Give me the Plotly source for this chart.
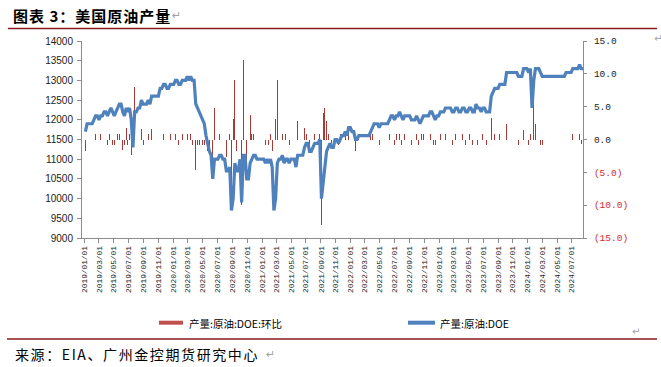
import plotly.graph_objects as go
import pandas as pd

# ---------------- data ----------------
week_start = "2019-01-04"   # weekly series, Fridays

prod_2019 = [11700, 11900, 11900, 11900, 11900, 12000, 12100, 12100, 12000, 12100,
             12100, 12200, 12200, 12100, 12200, 12300, 12200, 12100, 12200, 12300,
             12400, 12400, 12200, 12100, 12300, 12200, 12300, 12000, 11300, 12200,
             12200, 12300, 12300, 12500, 12400, 12400, 12400, 12500, 12400, 12600,
             12600, 12600, 12600, 12600, 12800, 12800, 12900, 12900, 12800, 12800,
             12900, 12900]
prod_2020 = [12900, 13000, 13000, 12900, 12900, 13000, 13000, 13000, 13100, 13000,
             13100, 13000, 13000, 12400, 12300, 12200, 12100, 12000, 11900, 11600,
             11400, 11200, 11100, 10500, 11000, 11000, 11000, 11100, 11100, 11000,
             11000, 10700, 10700, 10800, 9700, 10000, 10900, 10700, 10700, 11000,
             9900, 11100, 11100, 10500, 10500, 10900, 11000, 11100, 11100, 11000,
             11000, 11000]
prod_2021 = [11000, 11000, 10900, 11000, 10900, 11000, 10800, 9700, 10000, 10900,
             11000, 11000, 11100, 10900, 11000, 11000, 10900, 11000, 11000, 11000,
             10800, 11100, 11100, 11100, 11100, 11300, 11400, 11400, 11200, 11200,
             11300, 11400, 11400, 11400, 11500, 10000, 10400, 10900, 11200, 11300,
             11400, 11300, 11300, 11500, 11500, 11400, 11500, 11600, 11600, 11700,
             11600, 11800]
prod_2022 = [11800, 11700, 11700, 11500, 11500, 11600, 11600, 11600, 11600, 11600,
             11600, 11600, 11700, 11800, 11900, 11900, 11900, 11800, 11900, 11900,
             11900, 11900, 11900, 12000, 12100, 12100, 12000, 12100, 12100, 12200,
             12100, 12000, 12100, 12100, 12100, 12100, 12000, 12000, 12000, 12100,
             12000, 11900, 12000, 12100, 12100, 12100, 12100, 12200, 12200, 12100,
             12000, 12100]
prod_2023 = [12100, 12200, 12200, 12200, 12300, 12300, 12300, 12300, 12200, 12200,
             12300, 12300, 12200, 12200, 12300, 12300, 12200, 12200, 12300, 12300,
             12200, 12200, 12400, 12300, 12300, 12200, 12300, 12300, 12200, 12200,
             12200, 12600, 12700, 12800, 12800, 12800, 12900, 12900, 12900, 12900,
             13200, 13200, 13200, 13200, 13200, 13200, 13200, 13100, 13100, 13100,
             13300, 13300]
prod_2024 = [13300, 13200, 13300, 12300, 13000, 13300, 13300, 13300, 13200, 13100,
             13100, 13100, 13100, 13100, 13100, 13100, 13100, 13100, 13100, 13100,
             13100, 13100, 13100, 13200, 13200, 13200, 13200, 13300, 13300, 13300,
             13300, 13400, 13300, 13300]

wow_2019 = [-1.7, 1.7, 0, 0, 0, 0.8, 0.8, 0, -0.8, 0.8,
            0, 0.8, 0, -0.8, 0.8, 0.8, -0.8, -0.8, 0.8, 0.8,
            0.8, 0, -1.6, -0.8, 1.7, -0.8, 0.8, -2.4, -5.8, 8.0,
            0, 0.8, 0, 1.6, -0.8, 0, 0, 0.8, -0.8, 1.6,
            0, 0, 0, 0, 1.6, 0, 0.8, 0, -0.8, 0,
            0.8, 0]
wow_2020 = [0, 0.8, 0, -0.8, 0, 0.8, 0, 0, 0.8, -0.8,
            0.8, -0.8, 0, -4.6, -0.8, -0.8, -0.8, -0.8, -0.8, -2.5,
            -1.7, -1.8, -0.9, -5.4, 4.8, 0, 0, 0.9, 0, -0.9,
            0, -2.7, 0, 0.9, -10.2, 3.1, 9.0, -1.8, 0, 2.8,
            -10.0, 12.1, 0, -5.4, 0, 3.8, 0.9, 0.9, 0, -0.9,
            0, 0]
wow_2021 = [0, 0, -0.9, 0.9, -0.9, 0.9, -1.8, -10.2, 3.1, 9.0,
            0.9, 0, 0.9, -1.8, 0.9, 0, -0.9, 0.9, 0, 0,
            -1.8, 2.8, 0, 0, 0, 1.8, 0.9, 0, -1.8, 0,
            0.9, 0.9, 0, 0, 0.9, -13.0, 4.0, 4.8, 2.8, 0.9,
            0.9, -0.9, 0, 1.8, 0, -0.9, 0.9, 0.9, 0, 0.9,
            -0.9, 1.7]
wow_2022 = [0, -0.8, 0, -1.7, 0, 0.9, 0, 0, 0, 0,
            0, 0, 0.9, 0.9, 0.8, 0, 0, -0.8, 0.8, 0,
            0, 0, 0, 0.8, 0.8, 0, -0.8, 0.8, 0, 0.8,
            -0.8, -0.8, 0.8, 0, 0, 0, -0.8, 0, 0, 0.8,
            -0.8, -0.8, 0.8, 0.8, 0, 0, 0, 0.8, 0, -0.8,
            -0.8, 0.8]
wow_2023 = [0, 0.8, 0, 0, 0.8, 0, 0, 0, -0.8, 0,
            0.8, 0, -0.8, 0, 0.8, 0, -0.8, 0, 0.8, 0,
            -0.8, 0, 1.6, -0.8, 0, -0.8, 0.8, 0, -0.8, 0,
            0, 3.3, 0.8, 0.8, 0, 0, 0.8, 0, 0, 0,
            2.3, 0, 0, 0, 0, 0, 0, -0.8, 0, 0,
            1.5, 0]
wow_2024 = [0, -0.8, 0.8, -7.5, 5.7, 2.3, 0, 0, -0.8, -0.8,
            0, 0, 0, 0, 0, 0, 0, 0, 0, 0,
            0, 0, 0, 0.8, 0, 0, 0, 0.8, 0, 0,
            0, 0.8, -0.7, 0]

production = prod_2019 + prod_2020 + prod_2021 + prod_2022 + prod_2023 + prod_2024
wow_change = wow_2019 + wow_2020 + wow_2021 + wow_2022 + wow_2023 + wow_2024
dates = pd.date_range(week_start, periods=len(production), freq="7D")

x_tick_dates = pd.date_range("2019-01-01", "2024-07-01", freq="2MS")
x_tick_labels = [d.strftime("%Y/%m/%d") for d in x_tick_dates]
left_ticks = list(range(9000, 14001, 500))
left_labels = [str(v) for v in left_ticks]
right_ticks = [-15, -10, -5, 0, 5, 10, 15]
right_labels = ["(15.0)", "(10.0)", "(5.0)", "0.0", "5.0", "10.0", "15.0"]

name_bar = "产量:原油:DOE:环比"
name_line = "产量:原油:DOE"
title_text = "图表 3：美国原油产量"
source_text = "来源：EIA、广州金控期货研究中心"

# ---------------- styling ----------------
W, H = 661, 367
ML, MR, MT, MB = 82, 78, 41, 129
PW, PH = W - ML - MR, H - MT - MB
BAR_C = "#A83A36"
LINE_C = "#4F81BD"
AXIS_C = "#8C8C8C"
RULE_C = "#8B1A1A"
NEG_C = "#D42A2A"
CJK = "Noto Sans CJK SC"


def px(x):
    return (x - ML) / PW


def py(y):
    return (H - MB - y) / PH


fig = go.Figure()
fig.add_trace(go.Bar(x=dates, y=wow_change, name=name_bar, yaxis="y",
                     marker=dict(color=BAR_C, line=dict(width=0)),
                     width=3.0 * 86400000, showlegend=False))
fig.add_trace(go.Scatter(x=dates, y=production, name=name_line, yaxis="y2",
                         mode="lines", line=dict(color=LINE_C, width=3.2),
                         showlegend=False))

right_text = [f'<span style="color:{NEG_C}">{t}</span>' if v < 0 else t
              for v, t in zip(right_ticks, right_labels)]

fig.update_layout(
    width=W, height=H,
    margin=dict(l=ML, r=MR, t=MT, b=MB),
    paper_bgcolor="white", plot_bgcolor="white",
    showlegend=False,
    bargap=0,
    xaxis=dict(type="date", range=["2018-12-21", "2024-08-16"],
               tickmode="array", tickvals=list(x_tick_dates), ticktext=x_tick_labels,
               tickangle=-90, ticks="outside", ticklen=4, tickcolor=AXIS_C,
               showline=True, linecolor=AXIS_C, linewidth=1, showgrid=False,
               zeroline=False, automargin=False,
               tickfont=dict(family="Liberation Mono", size=7.8, color="#222"),
               anchor="y"),
    yaxis=dict(side="right", range=[-15, 15], tickmode="array",
               tickvals=right_ticks, ticktext=right_text,
               ticks="outside", ticklen=3, tickcolor=AXIS_C, ticklabelstandoff=5,
               showline=True, linecolor=AXIS_C, linewidth=1,
               showgrid=False, zeroline=False, automargin=False,
               tickfont=dict(family="Liberation Mono", size=9.5, color="#222")),
    yaxis2=dict(side="left", overlaying="y", range=[9000, 14000],
                tickmode="array", tickvals=left_ticks, ticktext=left_labels,
                ticks="outside", ticklen=4, tickcolor=AXIS_C, ticklabelstandoff=2,
                showline=True, linecolor=AXIS_C, linewidth=1,
                showgrid=False, zeroline=False, automargin=False,
                tickfont=dict(family="Liberation Sans", size=10, color="#222")),
)

shapes = [
    dict(type="line", xref="paper", yref="paper", x0=px(8), x1=px(657), y0=py(28.5), y1=py(28.5),
         line=dict(color=RULE_C, width=1.5)),
    dict(type="line", xref="paper", yref="paper", x0=px(7), x1=px(657), y0=py(339), y1=py(339),
         line=dict(color=RULE_C, width=1.5)),
    dict(type="line", xref="paper", yref="paper", x0=px(159), x1=px(183), y0=py(322.7), y1=py(322.7),
         line=dict(color="#C0504D", width=4)),
    dict(type="line", xref="paper", yref="paper", x0=px(408), x1=px(435), y0=py(322.7), y1=py(322.7),
         line=dict(color=LINE_C, width=4)),
]
fig.update_layout(shapes=shapes)


def ann(text, x, y, size, color="black", family=CJK, xanchor="left"):
    fig.add_annotation(text=text, x=px(x), y=py(y), xref="paper", yref="paper",
                       xanchor=xanchor, yanchor="middle", showarrow=False,
                       font=dict(family=family, size=size, color=color))


ann(f'<b><span style="letter-spacing:1px">{title_text}</span></b>', 11, 15, 15)
ann("↵", 170, 15, 11, color="#A0A0A0", family="DejaVu Sans")
ann(f'<span style="letter-spacing:1.6px">{source_text}</span>', 13, 354, 14)
ann("↵", 264, 354, 11, color="#A0A0A0", family="DejaVu Sans")
ann(name_bar, 187, 323, 10.5)
ann(name_line, 438, 323, 10.5)
ann("↵", 630, 331, 10, color="#A0A0A0", family="DejaVu Sans")
ann("↵", 652, 39, 10, color="#A0A0A0", family="DejaVu Sans")

fig.write_html("out.html",
               config={"displayModeBar": False, "staticPlot": True},
               post_script="document.body.style.margin='0';document.body.style.padding='0';")
